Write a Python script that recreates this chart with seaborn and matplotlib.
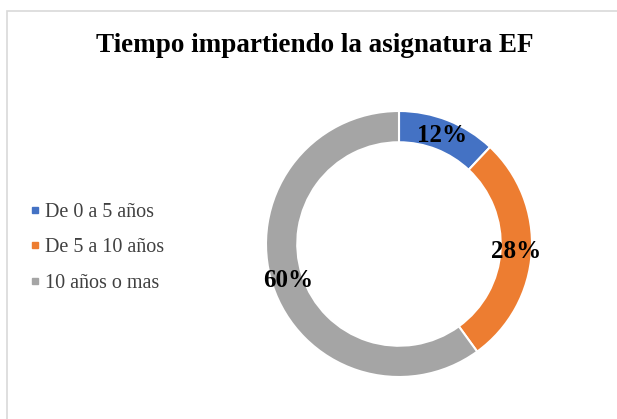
import matplotlib
matplotlib.use("Agg")
import matplotlib.pyplot as plt
from matplotlib.lines import Line2D
from matplotlib.patches import Rectangle
import seaborn as sns

# data
categories = ["De 0 a 5 años", "De 5 a 10 años", "10 años o mas"]
shares = [12, 28, 60]
colors = ["#4472C4", "#ED7D31", "#A5A5A5"]

sns.set_theme(style="white")
plt.rcParams["font.family"] = ["Liberation Serif", "DejaVu Serif"]

fig = plt.figure(figsize=(6.17, 4.19), dpi=100)

# light grey chart frame (only left and top edges are visible)
fig.patches.append(Rectangle((7 / 617, -0.2), 1.2, 1.2 - 11 / 419,
                             transform=fig.transFigure, fill=False,
                             edgecolor="#d9d9d9", linewidth=1.2))

ax = fig.add_axes([266 / 617, 42 / 419, 266 / 617, 266 / 419])
wedges, _, autotexts = ax.pie(
    shares,
    colors=colors,
    startangle=90,
    counterclock=False,
    autopct="%1.0f%%",
    pctdistance=0.88,
    wedgeprops=dict(width=0.235, edgecolor="white", linewidth=1.5),
    textprops=dict(fontsize=18, fontweight="bold", color="black"),
)
ax.set_xlim(-1, 1)
ax.set_ylim(-1, 1)
ax.set_aspect("auto")

fig.text(315 / 617, 1 - 45 / 419, "Tiempo impartiendo la asignatura EF",
         ha="center", va="center", fontsize=19.5, fontweight="bold",
         color="black")

handles = [Line2D([], [], marker="s", linestyle="none", markersize=5,
                  markerfacecolor=c, markeredgecolor=c) for c in colors]
fig.legend(handles, categories, loc="upper left",
           bbox_to_anchor=(21 / 617, 1 - 195 / 419), frameon=False,
           fontsize=14.5, labelcolor="#404040", handlelength=0.6,
           handletextpad=0.2, labelspacing=0.8, borderaxespad=0)

fig.savefig("out.png", dpi=100)
